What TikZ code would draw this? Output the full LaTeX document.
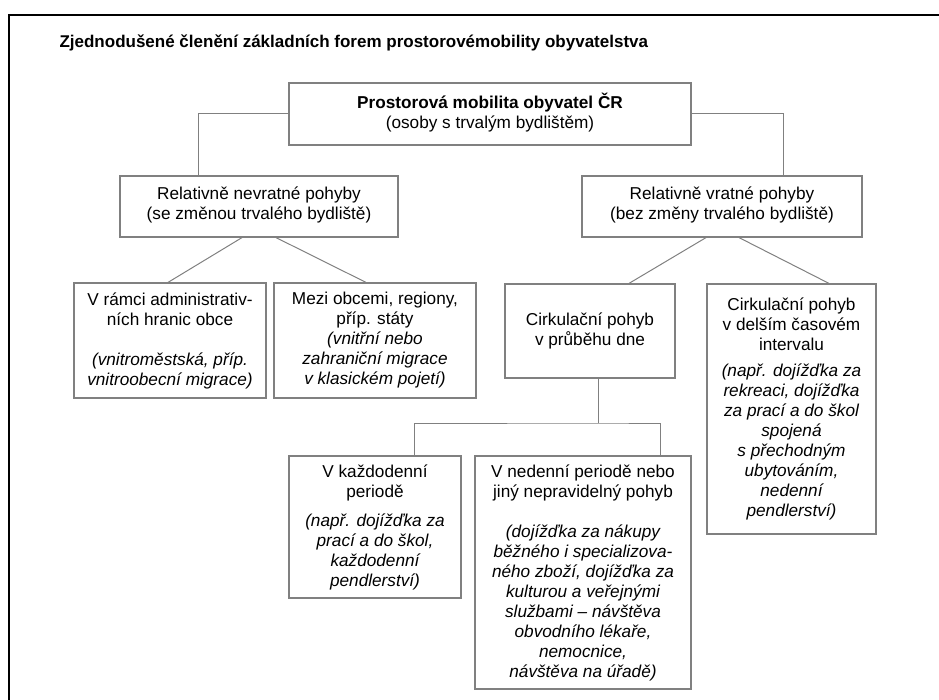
\documentclass[tikz,border=0pt]{standalone}
\usepackage{fontspec}
\setmainfont{Liberation Sans}
\usetikzlibrary{positioning}

\begin{document}
\begin{tikzpicture}[x=1pt,y=-1pt,
    box/.style={draw=black!50,line width=1.2pt,inner sep=0pt,align=center,
        font=\fontsize{17.2}{20}\selectfont},
    link/.style={draw=black!50,line width=1pt}]
        \useasboundingbox (0,0) rectangle (939,700);
        \draw[line width=2pt] (9,700) -- (9,15) -- (939,15);
        \node[anchor=west,font=\fontsize{17}{20}\selectfont\bfseries] (title) at (56,43)
            {Zjednodušené členění základních forem prostorovémobility obyvatelstva};
        % first level
        \node[box,minimum width=402pt,minimum height=62pt] (mobil) at (490,114)
            {\textbf{Prostorová mobilita obyvatel ČR}\\(osoby s trvalým bydlištěm)\\[-14pt]};
        \node[box,minimum width=278pt,minimum height=61pt] (nevrat) at (259,206.5)
            {Relativně nevratné pohyby\\(se změnou trvalého bydliště)\\[-14pt]};
        \node[box,minimum width=280pt,minimum height=61pt] (vrat) at (722,206.5)
            {Relativně vratné pohyby\\(bez změny trvalého bydliště)\\[-14pt]};
        % second level
        \node[box,minimum width=192pt,minimum height=115pt] (ramci) at (170,340.5)
            {V rámci administrativ-\\ních hranic obce\\[20pt]
            \itshape(vnitroměstská, příp.\\\itshape vnitroobecní migrace)};
        \node[box,minimum width=202pt,minimum height=115pt] (mezi) at (375,340.5)
            {Mezi obcemi, regiony,\\příp. státy\\\itshape(vnitřní nebo\\
            \itshape zahraniční migrace\\\itshape v klasickém pojetí)};
        \node[box,minimum width=170pt,minimum height=94pt] (dne) at (590,331)
            {Cirkulační pohyb\\v průběhu dne};
        \node[box,minimum width=169pt,minimum height=250pt] (delsi) at (791.5,409)
            {Cirkulační pohyb\\v delším časovém\\intervalu\\[6pt]
            \itshape(např. dojížďka za\\\itshape rekreaci, dojížďka\\
            \itshape za prací a do škol\\\itshape spojená\\\itshape s přechodným\\
            \itshape ubytováním,\\\itshape nedenní\\\itshape pendlerství)};
        % third level
        \node[box,minimum width=172pt,minimum height=142pt] (kazd) at (375,527)
            {V každodenní\\periodě\\[9pt]\itshape(např. dojížďka za\\
            \itshape prací a do škol,\\\itshape každodenní\\\itshape pendlerství)};
        \node[box,minimum width=216pt,minimum height=233pt] (neden) at (583,572.5)
            {V nedenní periodě nebo\\jiný nepravidelný pohyb\\[20pt]
            \itshape(dojížďka za nákupy\\\itshape běžného i specializova-\\
            \itshape ného zboží, dojížďka za\\\itshape kulturou a veřejnými\\
            \itshape službami -- návštěva\\\itshape obvodního lékaře,\\
            \itshape nemocnice,\\\itshape návštěva na úřadě)};
        % connectors
        \draw[link] (mobil.west) -| ([xshift=-61pt]nevrat.north);
        \draw[link] (mobil.east) -| ([xshift=61pt]vrat.north);
        \draw[link] ([xshift=-17pt]nevrat.south) -- ([xshift=-2pt]ramci.north);
        \draw[link] ([xshift=17pt]nevrat.south) -- ([xshift=-9pt]mezi.north);
        \draw[link] ([xshift=-16pt]vrat.south) -- ([xshift=39pt]dne.north);
        \draw[link] ([xshift=17pt]vrat.south) -- ([xshift=37.5pt]delsi.north);
        \coordinate (fork) at (598,423);
        \draw[link] (dne.south -| fork) -- (fork);
        \draw[link] ([xshift=39pt]kazd.north) |- (fork) -| ([xshift=77pt]neden.north);
    \end{tikzpicture}
\end{document}
